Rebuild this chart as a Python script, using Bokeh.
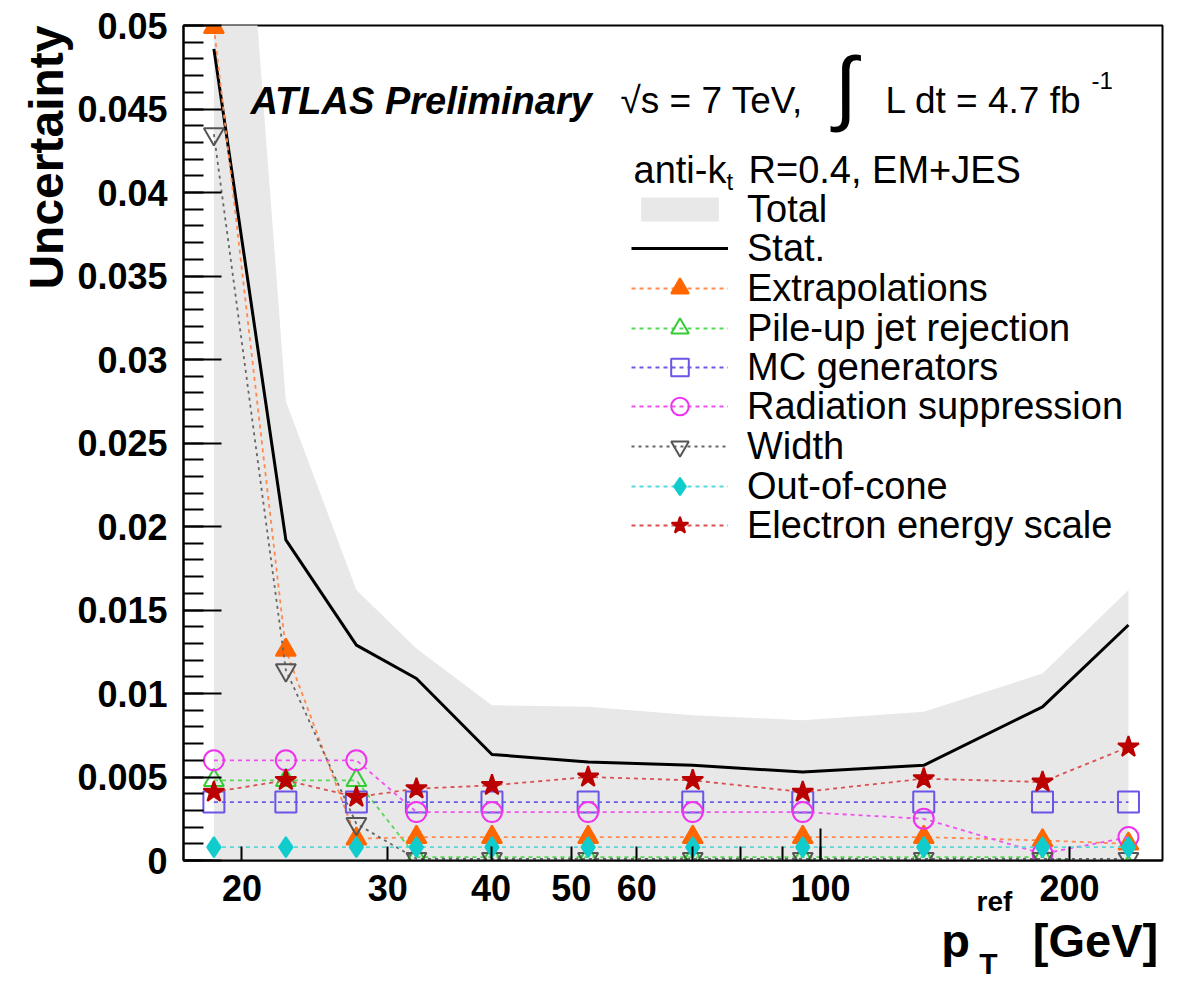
import math
from bokeh.plotting import figure
from bokeh.models import (Range1d, FixedTicker, PrintfTickFormatter, Label, Title,
                          Legend, LegendItem, ColumnDataSource, LogAxis)
from bokeh.embed import file_html
from bokeh.resources import INLINE

# ---------------- data ----------------
pt_ref = [18.5, 22.6, 27.5, 32.5, 40.1, 52.4, 70.1, 95.2, 133.3, 185.5, 235.6]
total = [0.0846, 0.0275, 0.0162, 0.0127, 0.0093, 0.0092, 0.0087, 0.0084, 0.0089, 0.0112, 0.0162]
stat = [0.0486, 0.0192, 0.0129, 0.0109, 0.00635, 0.0059, 0.0057, 0.0053, 0.0057, 0.0092, 0.0141]
extrapolations = [0.0499, 0.0126, 0.0013, 0.0014, 0.0014, 0.0014, 0.0014, 0.0014, 0.0014, 0.0012, 0.0010]
pileup = [0.0048, 0.0048, 0.0048, 0.0002, 0.0002, 0.0002, 0.0002, 0.0002, 0.0002, 0.0002, -0.0004]
mc_generators = [0.0035, 0.0035, 0.0035, 0.0035, 0.0035, 0.0035, 0.0035, 0.0035, 0.0035, 0.0035, 0.0035]
radiation = [0.0060, 0.0060, 0.0060, 0.0029, 0.0029, 0.0029, 0.0029, 0.0029, 0.0025, 0.0004, 0.0014]
width_unc = [0.0435, 0.0114, 0.0022, 0.0001, 0.0001, 0.0001, 0.0001, 0.0001, 0.0001, 0.0001, 0.0001]
out_of_cone = [0.0008, 0.0008, 0.0008, 0.0008, 0.0008, 0.0008, 0.0008, 0.0008, 0.0008, 0.0008, 0.0008]
electron = [0.0041, 0.0048, 0.0038, 0.0043, 0.0045, 0.0050, 0.0048, 0.0041, 0.0049, 0.0047, 0.0068]

x_ticks = [20, 30, 40, 50, 60, 100, 200]
x_minor = [70, 80, 90]
x_decade = [100]
y_ticks = [round(0.005 * i, 3) for i in range(11)]
y_minor = [round(0.001 * i, 3) for i in range(51)]

# ---------------- figure ----------------
X0, X1 = 17.0, 259.0
Y0, Y1 = 0.0, 0.05
FL, FR, FT, FB = 183, 1162, 25, 860  # frame edges in pixels
FONT = "Liberation Sans"


def xd(px):
    return 10 ** (math.log10(X0) + (px - FL) / (FR - FL) * (math.log10(X1) - math.log10(X0)))


def yd(py):
    return Y0 + (FB - py) / (FB - FT) * (Y1 - Y0)


p = figure(width=1184, height=984, x_axis_type="log",
           x_range=Range1d(X0, X1), y_range=Range1d(Y0, Y1),
           output_backend="svg", toolbar_location=None,
           min_border_left=FL, min_border_right=1184 - FR,
           min_border_top=FT, min_border_bottom=984 - FB)
p.xgrid.visible = False
p.ygrid.visible = False
p.outline_line_color = "black"
p.outline_line_width = 2
p.background_fill_color = "white"
p.border_fill_color = "white"

xa = p.xaxis[0]
xa.ticker = FixedTicker(ticks=x_ticks, minor_ticks=x_minor)
xa.formatter = PrintfTickFormatter(format="%d")
xa.major_tick_in = 14
xa.major_tick_out = 0
xa.minor_tick_in = 14
xa.minor_tick_out = 0
xa.major_tick_line_width = 2
xa.minor_tick_line_width = 2
xa.axis_line_width = 2
xa.major_label_text_font = FONT
xa.major_label_text_font_style = "bold"
xa.major_label_text_font_size = "36px"
xa.major_label_text_color = "black"
xa.major_label_standoff = 14

# longer tick at the decade (inside the frame only, no label)
dec_axis = LogAxis(fixed_location=0, ticker=FixedTicker(ticks=x_decade, minor_ticks=[]),
                   axis_line_color=None, minor_tick_line_color=None,
                   major_tick_in=32, major_tick_out=0, major_tick_line_width=2,
                   major_label_text_color=None, formatter=PrintfTickFormatter(format="%d"))
p.add_layout(dec_axis, "below")

ya = p.yaxis[0]
ya.ticker = FixedTicker(ticks=y_ticks, minor_ticks=y_minor)
ya.formatter = PrintfTickFormatter(format="%g")
ya.major_tick_in = 38
ya.major_tick_out = 0
ya.minor_tick_in = 20
ya.minor_tick_out = 0
ya.major_tick_line_width = 2
ya.minor_tick_line_width = 2
ya.axis_line_width = 2
ya.major_label_text_font = FONT
ya.major_label_text_font_style = "bold"
ya.major_label_text_font_size = "36px"
ya.major_label_text_color = "black"
ya.major_label_standoff = 16

p.add_layout(Title(text="Uncertainty", align="right", text_font=FONT,
                   text_font_size="48px", text_font_style="bold",
                   text_color="black", standoff=4), "left")

src = ColumnDataSource(dict(x=pt_ref, zero=[0.0] * len(pt_ref), total=total, stat=stat,
                            extr=extrapolations, pile=pileup, mc=mc_generators,
                            rad=radiation, wid=width_unc, ooc=out_of_cone, ele=electron))

band = p.varea(x="x", y1="zero", y2="total", source=src, fill_color="#e8e8e8")
stat_line = p.line(x="x", y="stat", source=src, line_color="black", line_width=3)

series = [
    ("Extrapolations", "extr", "#ff8a4c", "#ff6600", "triangle", 20, True, "4 4"),
    ("Pile-up jet rejection", "pile", "#55d855", "#33cc33", "triangle", 20, False, "4 4"),
    ("MC generators", "mc", "#6a5ae8", "#6a55e6", "square", 21, False, "4 4"),
    ("Radiation suppression", "rad", "#f050f0", "#ee33ee", "circle", 20, False, "4 4"),
    ("Width", "wid", "#666666", "#555555", "inverted_triangle", 20, False, "3 4"),
    ("Out-of-cone", "ooc", "#55d8d8", "#11cccc", "diamond", 20, True, "4 4"),
    ("Electron energy scale", "ele", "#d85050", "#bb0000", "star", 22, True, "4 4"),
]

entries = [("Total", [band]), ("Stat.", [stat_line])]
for label, col, lc, mcol, marker, size, filled, dash in series:
    ln = p.line(x="x", y=col, source=src, line_color=lc, line_width=1.8, line_dash=dash)
    sc = p.scatter(x="x", y=col, source=src, marker=marker, size=size,
                   line_color=mcol, line_width=2,
                   fill_color=mcol if filled else None,
                   fill_alpha=1.0 if filled else 0.0)
    entries.append((label, [ln, sc]))

# one legend per row, so that the row pitch matches the reference
ROW_H = 44
for i, (label, rends) in enumerate(entries):
    cy = 209 + 39.5 * i
    gh = 30 if label == "Total" else ROW_H
    lg = Legend(items=[LegendItem(label=label, renderers=rends)],
                location=(631 - FL, int(round(FB - (cy + ROW_H / 2)))),
                padding=0, margin=0, spacing=0,
                glyph_width=97, glyph_height=gh, label_height=ROW_H,
                label_standoff=19, label_text_font=FONT,
                label_text_font_size="38px", label_text_color="black",
                border_line_alpha=0, background_fill_alpha=0)
    p.add_layout(lg)


# ---------------- texts inside the frame ----------------
def txt(s, px, py, size, style="normal", align="left"):
    p.add_layout(Label(x=xd(px), y=yd(py), text=s, text_font=FONT,
                       text_font_size=f"{size}px", text_font_style=style,
                       text_align=align, text_baseline="alphabetic",
                       text_color="black"))


txt("ATLAS Preliminary", 250, 100, 38, "bold italic")
txt("√s = 7 TeV,", 620, 100, 37)
txt("∫", 834, 86, 82)
txt("L dt = 4.7 fb", 885, 100, 37)
txt("-1", 1091, 80, 24)
txt("anti-k", 633, 169, 38)
txt("t", 726, 181, 24)
txt("R=0.4, EM+JES", 748, 169, 38)


# ---------------- x-axis title: pieces stacked as extra axes below the frame ----------------
def title_piece(centers_px, texts, size, standoff):
    ticks = [round(xd(c), 3) for c in centers_px]
    ax = LogAxis(ticker=FixedTicker(ticks=ticks, minor_ticks=[]),
                 major_label_overrides={t: s for t, s in zip(ticks, texts)},
                 major_tick_line_color=None, minor_tick_line_color=None,
                 axis_line_color=None, major_tick_in=0, major_tick_out=0,
                 major_label_standoff=standoff, major_label_text_font=FONT,
                 major_label_text_font_style="bold", major_label_text_color="black",
                 major_label_text_font_size=f"{size}px")
    p.add_layout(ax, "below")


title_piece([994], ["ref"], 28, -18)
title_piece([955, 1095], ["p", "[GeV]"], 47, -6)
title_piece([988], ["T"], 30, -23)

open("out.html", "w").write(file_html(p, INLINE))
